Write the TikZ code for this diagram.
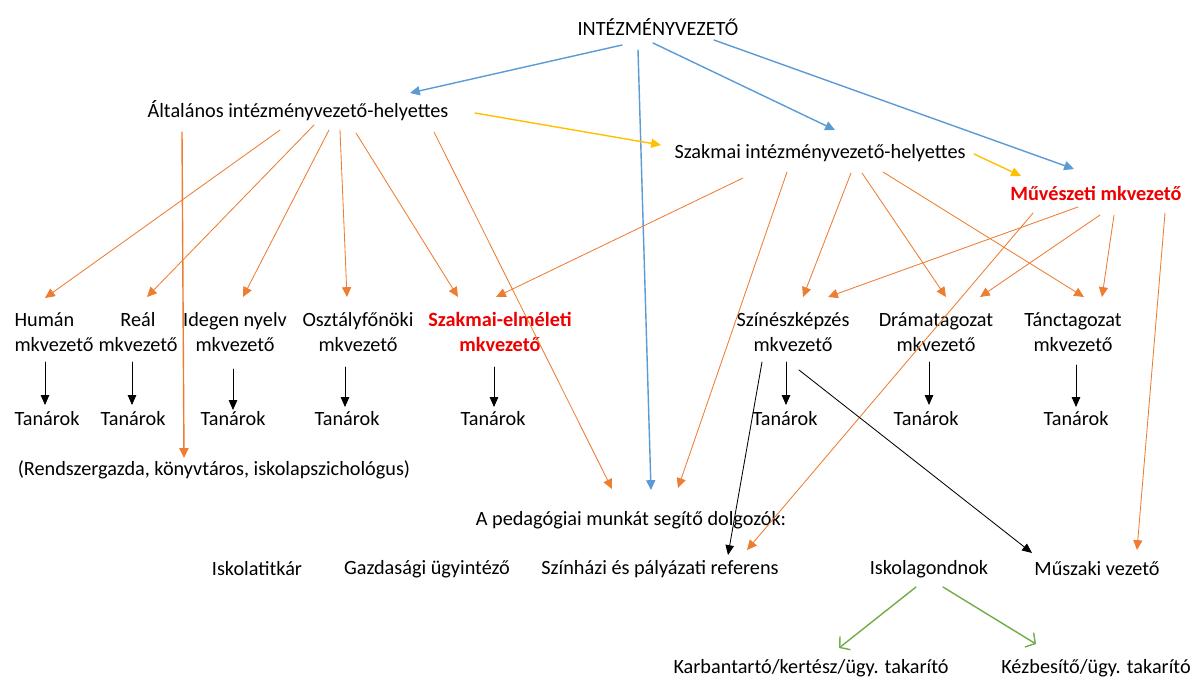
\documentclass[tikz,border=0pt]{standalone}
\usepackage{fontspec}
\setmainfont{Carlito}
\usetikzlibrary{arrows.meta}
\definecolor{kekszin}{HTML}{5B9BD5}
\definecolor{narancsszin}{HTML}{ED7D31}
\definecolor{sargaszin}{HTML}{FFC000}
\definecolor{zoldszin}{HTML}{70AD47}
\definecolor{pirosszin}{HTML}{EE0000}
\newcommand{\betumeret}{\fontsize{14.4}{17.8}\selectfont}
\begin{document}
\begin{tikzpicture}[x=0.025cm,y=-0.025cm, line join=round, line cap=round, font=\betumeret,
	nyilkek/.style={draw=kekszin, line width=1pt, -{Triangle[length=7pt,width=6.5pt]}},
	nyilsarga/.style={draw=sargaszin, line width=1pt, -{Triangle[length=7pt,width=6.5pt]}},
	nyilnarancs/.style={draw=narancsszin, line width=0.6pt, -{Triangle[length=7pt,width=6.5pt]}},
	nyilfekete/.style={draw=black, line width=0.6pt, -{Triangle[length=7pt,width=6pt]}},
	nyilzold/.style={draw=zoldszin, line width=1pt, -{Straight Barb[length=5pt,width=12pt]}},
	piros/.style={text=pirosszin, font=\betumeret\bfseries}]
	\useasboundingbox (0,0) rectangle (1195,680);
	% vezetők
	\node (top) at (658,27) {INTÉZMÉNYVEZETŐ};
	\node (alt) at (298,111) {Általános intézményvezető-helyettes};
	\node (szh) at (820,153) {Szakmai intézményvezető-helyettes};
	\node[piros] (muv) at (1096,193) {Művészeti mkvezető};
	% munkaközösségek
	\node[align=left] (human) at (54,332) {Humán\\mkvezető};
	\node[align=center] (real) at (138,332) {Reál\\mkvezető};
	\node[align=center] (ideg) at (235,332) {Idegen nyelv\\mkvezető};
	\node[align=center] (oszt) at (358,332) {Osztályfőnöki\\mkvezető};
	\node[align=center,piros] (szel) at (500,332) {Szakmai-elméleti\\mkvezető};
	\node[align=center] (szin) at (793,332) {Színészképzés\\mkvezető};
	\node[align=center] (dram) at (936,332) {Drámatagozat\\mkvezető};
	\node[align=center] (tanc) at (1073,332) {Tánctagozat\\mkvezető};
	\foreach \i/\x in {1/47,2/133,3/233,4/347,5/493,6/785,7/926,8/1076}
		\node (t\i) at (\x,419) {Tanárok};
	\node (rend) at (214,470) {(Rendszergazda, könyvtáros, iskolapszichológus)};
	\node (ped) at (631,520) {A pedagógiai munkát segítő dolgozók:};
	\node (titk) at (257,569) {Iskolatitkár};
	\node (gazd) at (427,569) {Gazdasági ügyintéző};
	\node (szref) at (660,569) {Színházi és pályázati referens};
	\node (isk) at (929,569) {Iskolagondnok};
	\node (musz) at (1097,569) {Műszaki vezető};
	\node (karb) at (811,668) {Karbantartó/kertész/ügy. takarító};
	\node (kezb) at (1096,668) {Kézbesítő/ügy. takarító};
	% kék nyilak
	\draw[nyilkek] ([shift={(-36,18)}]top.center) -- ([shift={(112,-18)}]alt.center);
	\draw[nyilkek] ([shift={(-20,23)}]top.center) -- ([shift={(20,-30)}]ped.center);
	\draw[nyilkek] ([shift={(-5,16)}]top.center) -- ([shift={(15,-23)}]szh.center);
	\draw[nyilkek] ([shift={(56,13)}]top.center) -- ([shift={(-22,-24)}]muv.center);
	% sárga nyilak
	\draw[nyilsarga] ([shift={(177,2)}]alt.center) -- ([shift={(-159,-8)}]szh.center);
	\draw[nyilsarga] ([shift={(154,1)}]szh.center) -- ([shift={(-75,-17)}]muv.center);
	% narancs nyilak
	\draw[nyilnarancs,line width=1pt] ([shift={(-116,21)}]alt.center) -- ([shift={(-30,-12)}]rend.center);
	\draw[nyilnarancs] ([shift={(-18,19)}]alt.center) -- ([shift={(-9,-34)}]human.center);
	\draw[nyilnarancs] ([shift={(16,14)}]alt.center) -- ([shift={(9,-35)}]real.center);
	\draw[nyilnarancs] ([shift={(31,19)}]alt.center) -- ([shift={(8,-35)}]ideg.center);
	\draw[nyilnarancs] ([shift={(42,19)}]alt.center) -- ([shift={(-11,-35)}]oszt.center);
	\draw[nyilnarancs] ([shift={(58,22)}]alt.center) -- ([shift={(-42,-35)}]szel.center);
	\draw[nyilnarancs] ([shift={(136,21)}]alt.center) -- ([shift={(-19,-31)}]ped.center);
	\draw[nyilnarancs] ([shift={(-77,25)}]szh.center) -- ([shift={(-4,-35)}]szel.center);
	\draw[nyilnarancs] ([shift={(-33,19)}]szh.center) -- ([shift={(47,-32)}]ped.center);
	\draw[nyilnarancs] ([shift={(31,20)}]szh.center) -- ([shift={(10,-35)}]szin.center);
	\draw[nyilnarancs] ([shift={(42,20)}]szh.center) -- ([shift={(10,-35)}]dram.center);
	\draw[nyilnarancs] ([shift={(63,19)}]szh.center) -- ([shift={(11,-35)}]tanc.center);
	\draw[nyilnarancs] ([shift={(-18,14)}]muv.center) -- ([shift={(35,-35)}]szin.center);
	\draw[nyilnarancs] ([shift={(4,22)}]muv.center) -- ([shift={(44,-35)}]dram.center);
	\draw[nyilnarancs] ([shift={(18,22)}]muv.center) -- ([shift={(29,-35)}]tanc.center);
	\draw[nyilnarancs] ([shift={(-63,20)}]muv.center) -- ([shift={(87,-19)}]szref.center);
	\draw[nyilnarancs] ([shift={(69,20)}]muv.center) -- ([shift={(40,-19)}]musz.center);
	% fekete nyilak
	\draw[nyilfekete] ([shift={(-9,30)}]human.center) -- ([shift={(-2,-14)}]t1.center);
	\draw[nyilfekete] ([shift={(-6,30)}]real.center) -- ([shift={(-1,-14)}]t2.center);
	\draw[nyilfekete] ([shift={(-2,37)}]ideg.center) -- ([shift={(0,-9)}]t3.center);
	\draw[nyilfekete] ([shift={(-13,35)}]oszt.center) -- ([shift={(-2,-12)}]t4.center);
	\draw[nyilfekete] ([shift={(-6,35)}]szel.center) -- ([shift={(1,-12)}]t5.center);
	\draw[nyilfekete] ([shift={(-7,30)}]szin.center) -- ([shift={(1,-14)}]t6.center);
	\draw[nyilfekete] ([shift={(-7,30)}]dram.center) -- ([shift={(3,-14)}]t7.center);
	\draw[nyilfekete] ([shift={(3,33)}]tanc.center) -- ([shift={(0,-12)}]t8.center);
	\draw[nyilfekete] ([shift={(-31,30)}]szin.center) -- ([shift={(68,-14)}]szref.center);
	\draw[nyilfekete] ([shift={(6,38)}]szin.center) -- ([shift={(-65,-16)}]musz.center);
	% zöld nyilak
	\draw[nyilzold] ([shift={(-13,18)}]isk.center) -- ([shift={(28,-20)}]karb.center);
	\draw[nyilzold] ([shift={(14,18)}]isk.center) -- ([shift={(-60,-24)}]kezb.center);
\end{tikzpicture}
\end{document}
